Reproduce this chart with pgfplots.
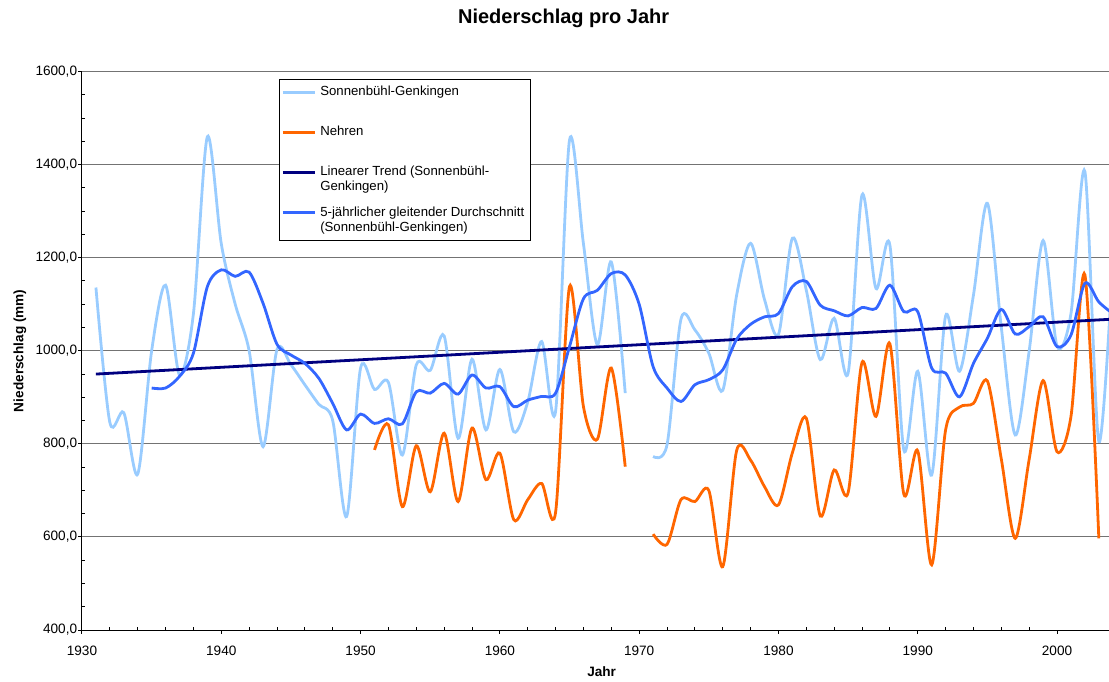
\documentclass[border=0pt]{standalone}
\usepackage{fontspec}
\setmainfont{Liberation Sans}
\usepackage{pgfplots}
\pgfplotsset{compat=1.18}

\definecolor{sgblau}{HTML}{99CCFF}
\definecolor{nehrenorange}{HTML}{FF6600}
\definecolor{trendnavy}{HTML}{000080}
\definecolor{mablau}{HTML}{3366FF}

\begin{document}
\begin{tikzpicture}
\path[use as bounding box] (-41pt,-25.5pt) rectangle (513.5pt,315pt);
\begin{axis}[
    width=513.5pt, height=279.2pt, scale only axis,
    xmin=1930, xmax=2003.73,
    ymin=400, ymax=1600,
    axis lines=left,
    axis line style={-, line width=0.5pt, black},
    xtick={1930,1940,...,2000},
    ytick={400,600,...,1600},
    minor x tick num=4,
    minor y tick num=3,
    tick align=outside,
    major tick length=1.75pt,
    minor tick length=1.75pt,
    tick style={black, line width=0.5pt},
    minor x tick style={yshift=1.75pt},
    minor y tick style={xshift=1.75pt},
    ymajorgrids,
    major grid style={black!55, line width=0.5pt},
    /pgf/number format/assume math mode=true,
    ticklabel style={font=\fontsize{6.8}{8}\selectfont},
    xticklabel style={/pgf/number format/1000 sep={}, yshift=-2.5pt},
    yticklabel style={/pgf/number format/fixed, /pgf/number format/fixed zerofill,
        /pgf/number format/precision=1, /pgf/number format/use comma,
        /pgf/number format/1000 sep={}, inner xsep=0.5pt},
    every axis title shift=0pt,
    title={Niederschlag pro Jahr},
    title style={at={(axis description cs:0.469,1.096)}, anchor=center, font=\bfseries\fontsize{10}{12}\selectfont},
    xlabel={Jahr},
    xlabel style={at={(axis description cs:0.506,-0.0752)}, anchor=center, font=\bfseries\fontsize{6.8}{8}\selectfont},
    ylabel={Niederschlag (mm)},
    ylabel style={at={(axis description cs:-0.0604,0.5)}, anchor=center, rotate=0, font=\bfseries\fontsize{6.8}{8}\selectfont},
    legend cell align=left,
    legend image code/.code={\draw[#1] (0pt,3.75pt) -- (16pt,3.75pt);},
    legend style={at={(axis description cs:0.1918,0.987)}, anchor=north west,
        draw=black, line width=0.5pt, fill=white,
        font=\fontsize{6.6}{7.5}\selectfont,
        cells={align=left}, row sep=2.3pt,
        inner xsep=1pt, inner ysep=1.3pt},
    every axis plot/.append style={line width=1.4pt, smooth},
]
% Sonnenbuehl-Genkingen
\addplot[sgblau] coordinates {
(1931,1136) (1932,846) (1933,867) (1934,735) (1935,1000) (1936,1141) (1937,948) (1938,1080)
(1939,1460) (1940,1230) (1941,1100) (1942,1000) (1943,794) (1944,1003) (1945,970) (1946,927)
(1947,885) (1948,850) (1949,644) (1950,963) (1951,917) (1952,932) (1953,776) (1954,970)
(1955,958) (1956,1032) (1957,812) (1958,982) (1959,830) (1960,960) (1961,826) (1962,890)
(1963,1020) (1964,870) (1965,1453) (1966,1230) (1967,1013) (1968,1191) (1969,909)};
\addlegendentry{Sonnenbühl-Genkingen\\\mbox{}}
\addplot[sgblau, forget plot] coordinates {
(1971,773) (1972,798) (1973,1068) (1974,1045) (1975,995) (1976,915) (1977,1120) (1978,1231)
(1979,1110) (1980,1035) (1981,1242) (1982,1130) (1983,981) (1984,1070) (1985,952) (1986,1335)
(1987,1134) (1988,1227) (1989,787) (1990,956) (1991,733) (1992,1075) (1993,956) (1994,1120)
(1995,1317) (1996,1050) (1997,819) (1998,1000) (1999,1237) (2000,1010) (2001,1080) (2002,1385)
(2003,805) (2004,1190)};
% Nehren
\addplot[nehrenorange] coordinates {
(1951,787) (1952,841) (1953,665) (1954,796) (1955,697) (1956,823) (1957,676) (1958,834)
(1959,723) (1960,780) (1961,637) (1962,680) (1963,715) (1964,653) (1965,1138) (1966,880)
(1967,810) (1968,963) (1969,751)};
\addlegendentry{Nehren\\\mbox{}}
\addplot[nehrenorange, forget plot] coordinates {
(1971,606) (1972,584) (1973,680) (1974,676) (1975,700) (1976,536) (1977,786) (1978,765)
(1979,708) (1980,669) (1981,781) (1982,855) (1983,645) (1984,744) (1985,695) (1986,975)
(1987,859) (1988,1015) (1989,692) (1990,785) (1991,540) (1992,830) (1993,879) (1994,887)
(1995,935) (1996,767) (1997,597) (1998,767) (1999,936) (2000,783) (2001,859) (2002,1163)
(2003,597)};
% Linearer Trend
\addplot[trendnavy] coordinates {(1931,950) (2004,1068)};
\addlegendentry{Linearer Trend (Sonnenbühl-\\Genkingen)}
% 5-jaehrlicher gleitender Durchschnitt
\addplot[mablau] coordinates {
(1935,920) (1936,920) (1937,945) (1938,995) (1939,1138) (1940,1174) (1941,1160) (1942,1169)
(1943,1102) (1944,1014) (1945,991) (1946,973) (1947,941) (1948,887) (1949,830) (1950,864)
(1951,844) (1952,854) (1953,843) (1954,912) (1955,909) (1956,930) (1957,907) (1958,948)
(1959,920) (1960,923) (1961,880) (1962,894) (1963,902) (1964,909) (1965,1009) (1966,1112)
(1967,1130) (1968,1166) (1969,1163) (1970,1100) (1971,966) (1972,920) (1973,891) (1974,927)
(1975,938) (1976,959) (1977,1025) (1978,1057) (1979,1073) (1980,1080) (1981,1138) (1982,1149)
(1983,1098) (1984,1086) (1985,1075) (1986,1093) (1987,1091) (1988,1141) (1989,1084) (1990,1084)
(1991,963) (1992,952) (1993,901) (1994,973) (1995,1027) (1996,1089) (1997,1036) (1998,1052)
(1999,1073) (2000,1009) (2001,1034) (2002,1145) (2003,1105) (2004,1080)};
\addlegendentry{5-jährlicher gleitender Durchschnitt\\(Sonnenbühl-Genkingen)}
\end{axis}
\end{tikzpicture}
\end{document}
